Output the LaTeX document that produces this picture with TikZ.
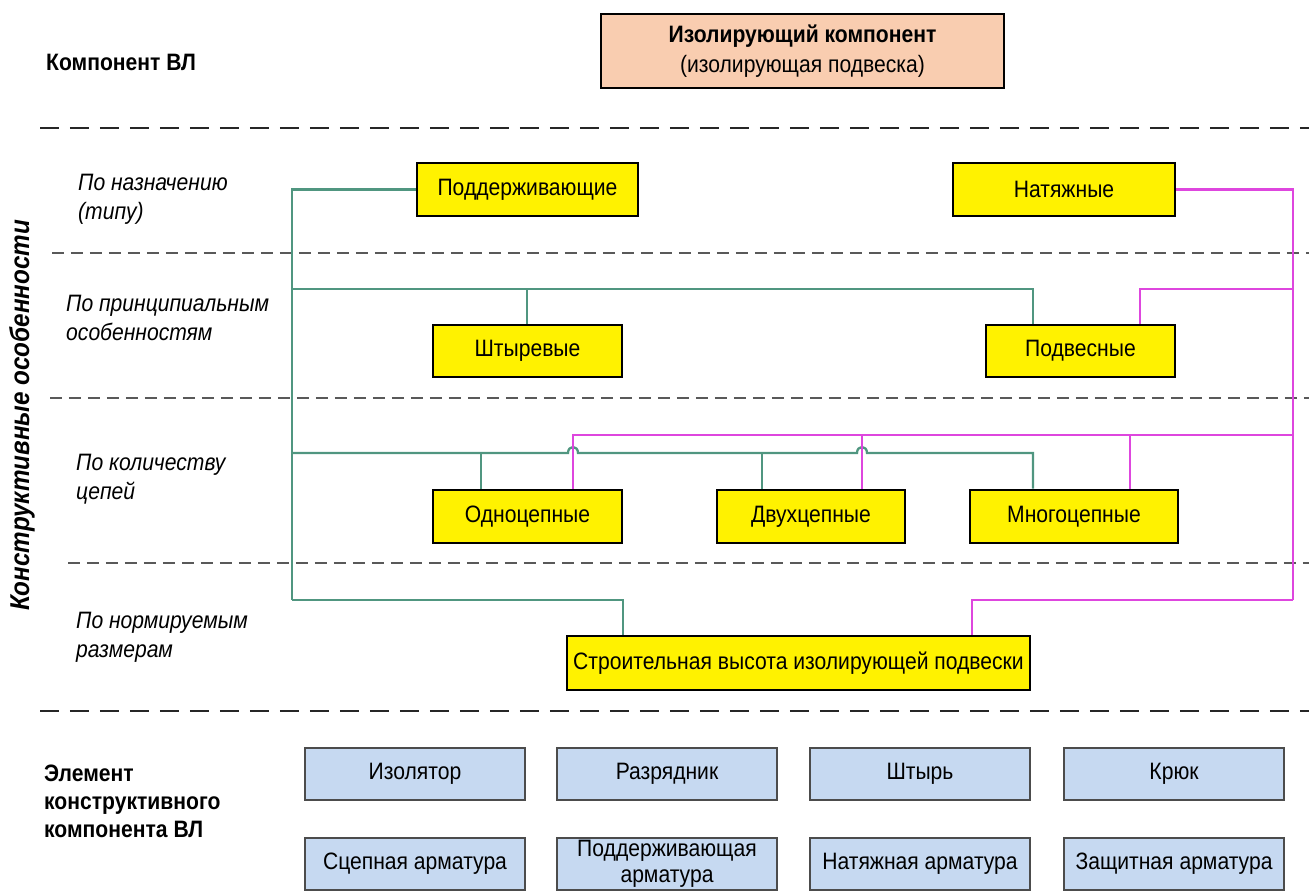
\documentclass[tikz,border=0pt]{standalone}
\usepackage{fontspec}
\setmainfont{Liberation Sans}[FakeStretch=0.89]
\definecolor{peach}{RGB}{249,205,176}
\definecolor{boxblue}{RGB}{198,217,241}
\definecolor{linegreen}{RGB}{80,150,128}
\definecolor{linemag}{RGB}{222,70,222}
\begin{document}
\begin{tikzpicture}[x=0.02cm,y=-0.02cm,
  ybox/.style={draw=black, line width=1.6pt, fill=yellow, inner sep=0pt, minimum height=1.06cm, font=\fontsize{13.5}{16}\selectfont},
  bbox/.style={draw=black!70, line width=0.8pt, fill=boxblue, inner sep=0pt, minimum width=4.4cm, minimum height=1.04cm, align=center, font=\fontsize{13.5}{15}\selectfont},
  lbl/.style={anchor=west, align=left, font=\fontsize{13.5}{16.5}\selectfont\itshape},
  bl/.style={anchor=west, align=left, font=\fontsize{13.5}{15}\selectfont\bfseries},
  gthick/.style={draw=linegreen, line width=1.3pt},
  gthin/.style={draw=linegreen, line width=0.8pt},
  mthick/.style={draw=linemag, line width=1.3pt},
  mthin/.style={draw=linemag, line width=0.8pt},
  majdash/.style={draw=black!85, line width=1.5pt, dash pattern=on 0.38cm off 0.22cm},
  mindash/.style={draw=black!65, line width=0.9pt, dash pattern=on 0.24cm off 0.14cm}]
\useasboundingbox (0,0) rectangle (1309,890);

% headings
\node[bl] (komp) at (40,62) {Компонент ВЛ};
\node[draw=black, line width=1.6pt, fill=peach, inner sep=0pt, minimum width=8.06cm, minimum height=1.48cm, align=center, font=\fontsize{13.5}{17}\selectfont] (top) at (802.5,51) {\textbf{Изолирующий компонент}\\(изолирующая подвеска)};

% dashed separators
\coordinate (d1a) at (40,128); \coordinate (d1b) at (1309,128);
\draw[majdash] (d1a) -- (d1b);
\coordinate (d2a) at (52,253); \coordinate (d2b) at (1309,253);
\draw[mindash] (d2a) -- (d2b);
\coordinate (d3a) at (50,398); \coordinate (d3b) at (1309,398);
\draw[mindash] (d3a) -- (d3b);
\coordinate (d4a) at (68,563); \coordinate (d4b) at (1309,563);
\draw[mindash] (d4a) -- (d4b);
\coordinate (d5a) at (40,711); \coordinate (d5b) at (1309,711);
\draw[majdash] (d5a) -- (d5b);

% side labels
\node[rotate=90, font=\fontsize{15.5}{17}\selectfont\bfseries\itshape] (side) at (22,415) {Конструктивные особенности};
\node[lbl] (l1) at (72,199) {По назначению\\(типу)};
\node[lbl] (l2) at (60,318) {По принципиальным\\особенностям};
\node[lbl] (l3) at (70,479) {По количеству\\цепей};
\node[lbl] (l4) at (70,637) {По нормируемым\\размерам};
\node[bl, font=\fontsize{13.5}{16}\selectfont\bfseries] (elem) at (38,801) {Элемент\\конструктивного\\компонента ВЛ};

% yellow boxes
\node[ybox, minimum width=4.42cm] (podd) at (527.5,189.5) {Поддерживающие};
\node[ybox, minimum width=4.44cm] (natyazh) at (1064,189.5) {Натяжные};
\node[ybox, minimum width=3.78cm, minimum height=1.04cm] (shtyr) at (527.5,351) {Штыревые};
\node[ybox, minimum width=3.78cm, minimum height=1.04cm] (podv) at (1080.5,351) {Подвесные};
\node[ybox, minimum width=3.78cm] (odno) at (527.5,516.5) {Одноцепные};
\node[ybox, minimum width=3.76cm] (dvuh) at (811,516.5) {Двухцепные};
\node[ybox, minimum width=4.16cm] (mnogo) at (1074,516.5) {Многоцепные};
\node[ybox, minimum width=9.26cm, minimum height=1.08cm] (stroit) at (798.5,663) {Строительная высота изолирующей подвески};

% blue boxes
\node[bbox] (izol) at (415,774) {Изолятор};
\node[bbox] (razr) at (667,774) {Разрядник};
\node[bbox] (shtyrb) at (920,774) {Штырь};
\node[bbox] (kruk) at (1174,774) {Крюк};
\node[bbox] (scep) at (415,864) {Сцепная арматура};
\node[bbox] (poddarm) at (667,864) {Поддерживающая\\арматура};
\node[bbox] (natarm) at (920,864) {Натяжная арматура};
\node[bbox] (zasch) at (1174,864) {Защитная арматура};

% green connectors
\draw[gthick] (podd.west) -- (292,189.5) -- (292,600);
\draw[gthin] (292,600) -- (623,600) -- (623,600 |- stroit.north);
\draw[gthin] (292,289) -- (1033,289) -- (1033,289 |- podv.north);
\draw[gthin] (527,289) -- (527,289 |- shtyr.north);
\draw[gthick] (292,453) -- (568,453) .. controls (568,445) and (578,445) .. (578,453) -- (857,453) .. controls (857,445) and (867,445) .. (867,453) -- (1033,453) -- (1033,453 |- mnogo.north);
\draw[gthin] (481,453) -- (481,453 |- odno.north);
\draw[gthin] (762,453) -- (762,453 |- dvuh.north);

% magenta connectors
\draw[mthick] (natyazh.east) -- (1293,189.5) -- (1293,600);
\draw[mthin] (1293,600) -- (972,600) -- (972,600 |- stroit.north);
\draw[mthin] (1293,289) -- (1140,289) -- (1140,289 |- podv.north);
\draw[mthick] (1293,435) -- (573,435) -- (573,435 |- odno.north);
\draw[mthin] (862,435) -- (862,435 |- dvuh.north);
\draw[mthin] (1130,435) -- (1130,435 |- mnogo.north);
\end{tikzpicture}
\end{document}
